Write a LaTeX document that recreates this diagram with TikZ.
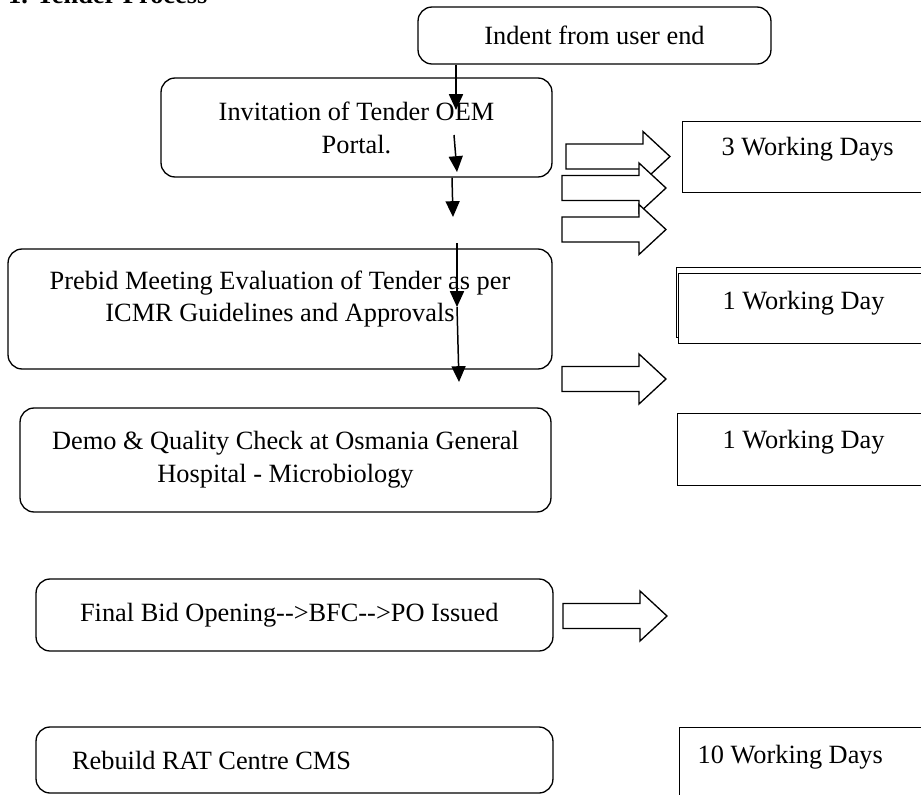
\documentclass[tikz,border=0pt]{standalone}
\usepackage{fontspec}
\setmainfont{Liberation Serif}
\usetikzlibrary{arrows.meta, positioning, calc}

\begin{document}
\begin{tikzpicture}[
      x=0.02cm, y=-0.02cm,
      >={Triangle[width=8pt, length=9pt]},
      every node/.style={font=\fontsize{15}{18.7}\selectfont},
      step_box/.style={rectangle, draw, rounded corners=8pt,
                       line width=0.75pt, align=center, inner sep=0pt},
      day_box/.style={rectangle, draw, fill=white, line width=0.75pt,
                      anchor=north west, align=flush left, inner ysep=0pt},
      flow/.style={->, line width=0.85pt},
      hollow/.pic={
        \draw[line width=0.75pt, fill=white] (0,-12.5) -- (77,-12.5) --
          (77,-25) -- (104,0) -- (77,25) -- (77,12.5) -- (0,12.5) -- cycle;
      }
    ]
      \useasboundingbox (0,0) rectangle (921,795);

      \node[anchor=base west, font=\fontsize{15}{18}\selectfont\bfseries]
        (title) at (2,3) {1. Tender Process};

      \node[step_box, minimum width=7.06cm, minimum height=1.14cm]
        (indent) at (594.5,35.5) {Indent from user end};
      \node[step_box, minimum width=7.82cm, minimum height=1.98cm]
        (invite) at (356.5,127.5) {Invitation of Tender OEM\\Portal.};
      \node[step_box, minimum width=10.88cm, minimum height=2.4cm,
            text depth=14.5pt]
        (prebid) at (280,309)
        {Prebid Meeting Evaluation of Tender as per\\ICMR Guidelines and Approvals};
      \node[step_box, minimum width=10.62cm, minimum height=2.08cm]
        (demo) at (285.5,460)
        {Demo \& Quality Check at Osmania General\\Hospital - Microbiology};
      \node[step_box, minimum width=10.34cm, minimum height=1.44cm,
            inner xsep=0.88cm, text width=8.58cm, align=flush left]
        (final_bid) at (294.5,615) {Final Bid Opening-{}->BFC-{}->PO Issued};
      \node[step_box, minimum height=1.32cm, inner xsep=0.72cm,
            text width=8.9cm, align=flush left]
        (rebuild) at (294.5,760) {Rebuild RAT Centre CMS};

      \pic (arrow_a) at (566,156.5) {hollow};
      \pic (arrow_b) at (562,188) {hollow};
      \pic (arrow_c) at (562,229.5) {hollow};
      \pic (arrow_d) at (562,379) {hollow};
      \pic (arrow_e) at (563,616) {hollow};

      \node[day_box, minimum height=1.42cm, inner xsep=0.78cm,
            text width=3.6cm, text depth=12.3pt]
        (days_3) at (682,121) {3 Working Days};
      \node[day_box, minimum height=1.4cm, minimum width=5.6cm]
        (day_1a_frame) at (676,267) {};
      \node[day_box, minimum height=1.4cm, inner xsep=0.88cm,
            text width=3.5cm, text depth=10pt]
        (day_1a) at (678,273) {1 Working Day};
      \node[day_box, minimum height=1.44cm, inner xsep=0.9cm,
            text width=3.5cm, text depth=11.2pt]
        (day_1b) at (677,413) {1 Working Day};
      \node[day_box, minimum height=1.6cm, inner xsep=0.36cm,
            text width=4.5cm, text depth=14.6pt]
        (days_10) at (679,727) {10 Working Days};

      \coordinate (flow1_end) at (456,110);
      \coordinate (flow2_start) at (454,135);
      \coordinate (flow2_end) at (457,172);
      \coordinate (flow3_end) at (453,217);
      \coordinate (flow4_start) at (457,243);
      \coordinate (flow4_end) at (457,307);
      \coordinate (flow5_end) at (459,382);

      \draw[flow] (indent.south -| flow1_end) -- (flow1_end);
      \draw[flow] (flow2_start) -- (flow2_end);
      \draw[flow] (invite.south -| 452,0) -- (flow3_end);
      \draw[flow] (flow4_start) -- (flow4_end);
      \draw[flow] (flow4_end) -- (flow5_end);
\end{tikzpicture}
\end{document}
